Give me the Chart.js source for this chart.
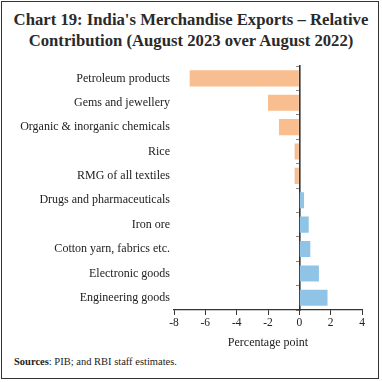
<!DOCTYPE html>
<html><head><meta charset="utf-8">
<script src="https://cdn.jsdelivr.net/npm/chart.js@4"></script>
<style>
html,body{margin:0;padding:0;background:#fff;}
#frame{position:absolute;left:1px;top:1px;width:376px;height:376px;border:1.5px solid #333;}
#title{position:absolute;left:0;top:9px;width:382px;text-align:center;font-family:"Liberation Serif","DejaVu Serif",serif;font-weight:bold;font-size:16.7px;line-height:21px;color:#2a2a2a;}
#wrap{position:absolute;left:0;top:55px;width:382px;height:295px;}
#src{position:absolute;left:14px;top:356px;font-family:"Liberation Serif",serif;font-size:10.5px;color:#222;}
</style></head>
<body>
<div id="frame"></div>
<div id="title">Chart 19: India's Merchandise Exports – Relative<br>Contribution (August 2023 over August 2022)</div>
<div id="wrap"><canvas id="c"></canvas></div>
<div id="src"><b>Sources</b>: PIB; and RBI staff estimates.</div>
<script>
const categories = ["Petroleum products","Gems and jewellery","Organic & inorganic chemicals","Rice","RMG of all textiles","Drugs and pharmaceuticals","Iron ore","Cotton yarn, fabrics etc.","Electronic goods","Engineering goods"];
const contribution = [-7.0,-2.0,-1.3,-0.3,-0.3,0.3,0.6,0.7,1.25,1.8];
const xTicks = [-8,-6,-4,-2,0,2,4];
const colors = contribution.map(v => v < 0 ? "#F9BE8F" : "#90C4E6");
const serif = "'Liberation Serif', 'DejaVu Serif', serif";
new Chart(document.getElementById("c"), {
  type: "bar",
  data: { labels: categories, datasets: [{ data: contribution, backgroundColor: colors, yAxisID: "y", barPercentage: 0.66, categoryPercentage: 1 }] },
  options: {
    indexAxis: "y", responsive: true, maintainAspectRatio: false, animation: false,
    layout: { padding: { top: 8, right: 20, bottom: 0, left: 0 } },
    plugins: { legend: { display: false }, tooltip: { enabled: false } },
    scales: {
      x: {
        min: xTicks[0], max: xTicks[xTicks.length-1],
        afterBuildTicks: s => { s.ticks = xTicks.map(v => ({ value: v })); },
        grid: { drawOnChartArea: false, drawTicks: true, tickLength: 5, color: "#333", lineWidth: 1 },
        border: { display: true, color: "#333", width: 1.2 },
        ticks: { color: "#222", font: { family: serif, size: 11.5 }, padding: 1 },
        title: { display: true, text: "Percentage point", color: "#222", font: { family: serif, size: 12 }, padding: { top: 3, bottom: 0 } },
        afterFit: s => { s.height = 40; }
      },
      y: {
        position: "left",
        grid: { display: false, drawTicks: false },
        border: { display: false },
        ticks: { color: "#222", font: { family: serif, size: 12 }, padding: 4, autoSkip: false },
        afterFit: s => { s.width = 174; }
      },
      y2: {
        type: "category", position: { x: 0 }, offset: true,
        grid: { drawOnChartArea: false, drawTicks: true, tickLength: 3, color: "#888", offset: true },
        border: { display: true, color: "#333", width: 1.6 },
        ticks: { display: false }
      }
    }
  }
});
</script>
</body></html>
